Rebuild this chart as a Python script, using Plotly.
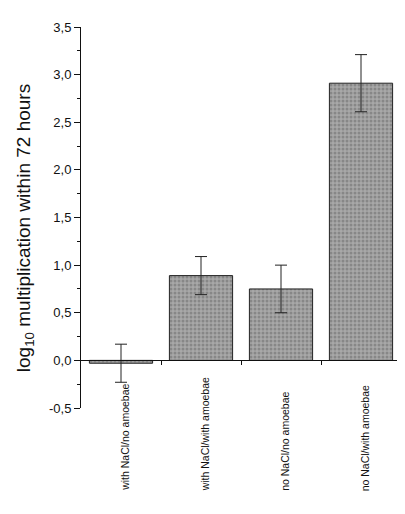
import plotly.graph_objects as go

categories = ["with NaCl/no amoebae", "with NaCl/with amoebae",
              "no NaCl/no amoebae", "no NaCl/with amoebae"]
values = [-0.03, 0.89, 0.75, 2.91]
errors = [0.20, 0.20, 0.25, 0.30]
ytick_vals = [-0.5, 0.0, 0.5, 1.0, 1.5, 2.0, 2.5, 3.0, 3.5]
ytick_text = ["-0,5", "0,0", "0,5", "1,0", "1,5", "2,0", "2,5", "3,0", "3,5"]
xpos = list(range(len(categories)))
boundaries = [p + 0.5 for p in xpos]

FONT = "Liberation Sans, Arial, sans-serif"

fig = go.Figure()
fig.add_trace(go.Bar(
    x=xpos, y=values, width=0.79,
    marker=dict(color="#a0a0a0",
                line=dict(color="#222222", width=1),
                pattern=dict(shape=".", size=4, solidity=0.45,
                             fgcolor="#666666", bgcolor="#a8a8a8")),
    error_y=dict(type="data", array=errors, visible=True,
                 color="#222222", thickness=1, width=6),
    showlegend=False,
))

ann = []
for p, c in zip(xpos, categories):
    ann.append(dict(x=p, y=-0.224, xref="x", yref="paper", text=c,
                    textangle=-90, showarrow=False, xanchor="center",
                    yanchor="bottom", xshift=4,
                    font=dict(family=FONT, size=10.5, color="#111111")))
ann.append(dict(x=0, y=0.472, xref="paper", yref="paper",
                text="log<sub>10</sub> multiplication within 72 hours",
                textangle=-90, showarrow=False, xanchor="center",
                yanchor="middle", xshift=-56,
                font=dict(family=FONT, size=19, color="#111111")))

fig.update_layout(
    width=405, height=514,
    margin=dict(l=73, r=12, t=12, b=114),
    paper_bgcolor="white", plot_bgcolor="white",
    bargap=0.2,
    annotations=ann,
    xaxis=dict(range=[-0.5, 3.5], anchor="free", position=0.125,
               showline=True, linecolor="#111111", linewidth=1,
               ticks="outside", ticklen=4, tickcolor="#111111",
               tickvals=boundaries, showticklabels=False,
               showgrid=False, zeroline=False),
    xaxis2=dict(range=[-0.5, 3.5], overlaying="x", anchor="free",
                position=0.125, showline=False,
                ticks="inside", ticklen=4, tickcolor="#111111",
                tickvals=boundaries, showticklabels=False,
                showgrid=False, zeroline=False),
    yaxis=dict(range=[-0.5, 3.5], showline=True, linecolor="#111111",
               linewidth=1, ticks="outside", ticklen=6, tickcolor="#111111",
               tickvals=ytick_vals, ticktext=ytick_text,
               minor=dict(dtick=0.25, ticks="outside", ticklen=3,
                          tickcolor="#111111", showgrid=False),
               showgrid=False, zeroline=False,
               tickfont=dict(family=FONT, size=13, color="#111111")),
)

fig.write_html("out.html")
